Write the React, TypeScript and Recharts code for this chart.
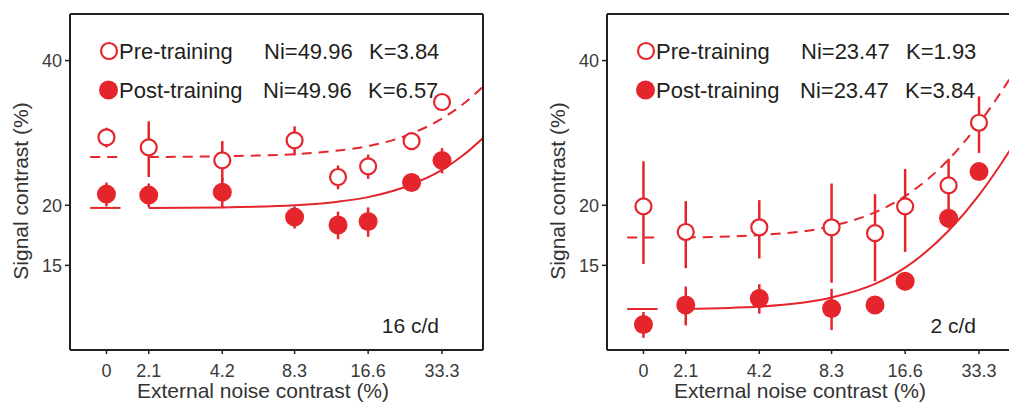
import { ComposedChart, Line, Scatter, ErrorBar, XAxis, YAxis } from "recharts";

const RED = "#e4262c";
const INK = "#231f20";
const FONT = "'Liberation Sans', Arial, sans-serif";

// external noise levels (%); 0 is drawn at ZERO_AT on the log axis
const noiseLevels = [0, 2.1, 4.2, 8.3, 12.5, 16.6, 25, 33.3];
const ZERO_AT = 1.41;
const xTickValues = [ZERO_AT, 2.1, 4.2, 8.3, 16.6, 33.3];
const xTickLabels = ["0", "2.1", "4.2", "8.3", "16.6", "33.3"];
const yTicks = [15, 20, 40];

// 16 c/d
const pre16 = [27.7, 26.4, 24.8, 27.3, 22.9, 24.1, 27.2, 32.8];
const pre16Err = [1.3, 3.5, 2.4, 1.9, 1.3, 1.4, 0.5, 0.6];
const post16 = [21.1, 21.0, 21.3, 18.9, 18.2, 18.5, 22.3, 24.8];
const post16Err = [1.2, 1.2, 1.5, 1.0, 1.2, 1.3, 0.4, 1.5];

// 2 c/d
const pre2 = [19.9, 17.6, 18.0, 18.0, 17.5, 19.9, 22.0, 29.7];
const pre2Err = [4.8, 2.8, 2.5, 4.2, 3.6, 3.9, 3.0, 4.0];
const post2 = [11.3, 12.4, 12.8, 12.2, 12.4, 13.9, 18.8, 23.5];
const post2Err = [0.7, 1.15, 0.9, 1.2, 0.3, 0.6, 0.9, 0.5];

// fitted curves
const curveX = [2.1, 4.2, 8.3, 12.5, 16.6, 25, 33.3, 41, 49];
const pre16Fit = [25.2, 25.3, 25.55, 26.0, 26.55, 28.2, 30.3, 32.6, 35.3];
const post16Fit = [19.75, 19.8, 20.0, 20.35, 20.8, 22.1, 23.7, 25.5, 27.6];
const pre2Fit = [17.14, 17.34, 18.1, 19.34, 20.9, 24.9, 29.6, 34.4, 39.6];
const post2Fit = [12.17, 12.31, 12.86, 13.73, 14.84, 17.7, 21.0, 24.4, 28.1];

// short model segment drawn at zero noise
const zeroSegX = [1.21, 1.61];

const points = (vals: number[], errs: number[]) =>
  noiseLevels.map((n, i) => ({ x: n === 0 ? ZERO_AT : n, y: vals[i], err: errs[i] }));
const curve = (vals: number[]) => curveX.map((x, i) => ({ x, y: vals[i] }));
const zeroSeg = (v: number) => zeroSegX.map((x) => ({ x, y: v }));

const OpenDot = (p: any) => (
  <circle cx={p.cx} cy={p.cy} r={8} fill="#fff" stroke={RED} strokeWidth={2.2} />
);
const FilledDot = (p: any) => <circle cx={p.cx} cy={p.cy} r={9.5} fill={RED} />;

type PanelProps = {
  left: number;
  pre: number[];
  preErr: number[];
  post: number[];
  postErr: number[];
  preFit: number[];
  postFit: number[];
  ni: string;
  kPre: string;
  kPost: string;
  freq: string;
};

function Panel(props: PanelProps) {
  const axisLine = { stroke: INK, strokeWidth: 2 };
  const tickLine = { stroke: INK, strokeWidth: 1.5 };
  const tickStyle = { fontSize: 18, fill: "#3a3a3a", fontFamily: FONT };
  const xFmt = (v: number) => xTickLabels[xTickValues.indexOf(v)] ?? "";
  const textStyle = { fontFamily: FONT, fill: INK };

  return (
    <div style={{ position: "absolute", left: props.left, top: 0, width: 500, height: 403 }}>
      <ComposedChart width={500} height={403} margin={{ top: 4, right: 7, bottom: 0, left: 0 }}>
        <XAxis
          xAxisId="b"
          dataKey="x"
          type="number"
          scale="log"
          domain={[1, 49]}
          allowDataOverflow
          ticks={xTickValues}
          tickFormatter={xFmt}
          height={53}
          axisLine={axisLine}
          tickLine={tickLine}
          tickSize={4}
          tickMargin={10}
          tick={tickStyle}
          interval={0}
        />
        <XAxis
          xAxisId="t"
          orientation="top"
          dataKey="x"
          type="number"
          scale="log"
          domain={[1, 49]}
          allowDataOverflow
          ticks={xTickValues}
          height={10}
          axisLine={axisLine}
          tickLine={tickLine}
          tickSize={4}
          tick={false}
          interval={0}
        />
        <YAxis
          yAxisId="l"
          dataKey="y"
          type="number"
          scale="log"
          domain={[10, 50]}
          allowDataOverflow
          ticks={yTicks}
          width={70}
          axisLine={axisLine}
          tickLine={tickLine}
          tickSize={5}
          tickMargin={3}
          tick={tickStyle}
          interval={0}
        />
        <YAxis
          yAxisId="r"
          orientation="right"
          dataKey="y"
          type="number"
          scale="log"
          domain={[10, 50]}
          allowDataOverflow
          ticks={yTicks}
          width={10}
          axisLine={axisLine}
          tickLine={tickLine}
          tickSize={4}
          tick={false}
          interval={0}
        />

        <Line xAxisId="b" yAxisId="l" data={curve(props.preFit)} dataKey="y" type="monotone" stroke={RED} strokeWidth={2} strokeDasharray="10 7" dot={false} isAnimationActive={false} />
        <Line xAxisId="b" yAxisId="l" data={curve(props.postFit)} dataKey="y" type="monotone" stroke={RED} strokeWidth={2} dot={false} isAnimationActive={false} />
        <Line xAxisId="b" yAxisId="l" data={zeroSeg(props.preFit[0])} dataKey="y" stroke={RED} strokeWidth={2} strokeDasharray="10 7" dot={false} isAnimationActive={false} />
        <Line xAxisId="b" yAxisId="l" data={zeroSeg(props.postFit[0])} dataKey="y" stroke={RED} strokeWidth={2} dot={false} isAnimationActive={false} />

        <Scatter xAxisId="b" yAxisId="l" data={points(props.pre, props.preErr)} dataKey="y" shape={OpenDot} isAnimationActive={false}>
          <ErrorBar dataKey="err" direction="y" width={0} stroke={RED} strokeWidth={2.5} isAnimationActive={false} />
        </Scatter>
        <Scatter xAxisId="b" yAxisId="l" data={points(props.post, props.postErr)} dataKey="y" shape={FilledDot} isAnimationActive={false}>
          <ErrorBar dataKey="err" direction="y" width={0} stroke={RED} strokeWidth={2.5} isAnimationActive={false} />
        </Scatter>
      </ComposedChart>

      <svg width={500} height={403} style={{ position: "absolute", left: 0, top: 0, pointerEvents: "none" }}>
        <circle cx={109} cy={51} r={8} fill="#fff" stroke={RED} strokeWidth={2.2} />
        <circle cx={108.5} cy={90} r={9.5} fill={RED} />
        <g {...textStyle} fontSize={22}>
          <text x={119} y={59}>Pre-training</text>
          <text x={264} y={59}>Ni={props.ni}</text>
          <text x={369} y={59}>K={props.kPre}</text>
          <text x={119} y={98}>Post-training</text>
          <text x={263} y={98}>Ni={props.ni}</text>
          <text x={368} y={98}>K={props.kPost}</text>
        </g>
        <text {...textStyle} fontSize={21} x={439} y={333} textAnchor="end">
          {props.freq}
        </text>
        <text {...textStyle} fill="#333" fontSize={21} x={263} y={398} textAnchor="middle">
          External noise contrast (%)
        </text>
        <text {...textStyle} fill="#333" fontSize={21} textAnchor="middle" transform="translate(28,191) rotate(-90)">
          Signal contrast (%)
        </text>
      </svg>
    </div>
  );
}

export default function App() {
  return (
    <div
      style={{
        position: "fixed",
        left: 0,
        top: 0,
        width: 1009,
        height: 403,
        overflow: "hidden",
        background: "#fff",
      }}
    >
      <Panel left={0} pre={pre16} preErr={pre16Err} post={post16} postErr={post16Err} preFit={pre16Fit} postFit={post16Fit} ni="49.96" kPre="3.84" kPost="6.57" freq="16 c/d" />
      <Panel left={537} pre={pre2} preErr={pre2Err} post={post2} postErr={post2Err} preFit={pre2Fit} postFit={post2Fit} ni="23.47" kPre="1.93" kPost="3.84" freq="2 c/d" />
    </div>
  );
}
